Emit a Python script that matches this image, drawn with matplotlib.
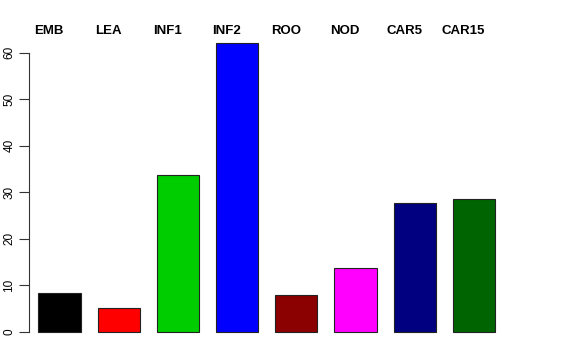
import matplotlib
matplotlib.use('Agg')
import matplotlib.pyplot as plt
import numpy as np

# tissue names and values
tissues = ['EMB', 'LEA', 'INF1', 'INF2', 'ROO', 'NOD', 'CAR5', 'CAR15']
values = [8.4, 5.0, 33.8, 62.1, 7.9, 13.6, 27.6, 28.6]
colors = ['#000000', '#FF0000', '#00CD00', '#0000FF', '#8B0000', '#FF00FF', '#000080', '#006400']

plt.rcParams['font.family'] = ['Liberation Sans', 'DejaVu Sans']

fig = plt.figure(figsize=(5.76, 3.6), dpi=100)
ax = fig.add_axes([0.0509, 0.0464, 0.8335, 0.8589])

x = np.arange(len(tissues))
ax.bar(x, values, width=0.714, color=colors, edgecolor='#222222', linewidth=0.8)

ax.set_xlim(-0.51, 7.6)
ax.set_ylim(-2.5, 64)

# labels on top, a bit left of each bar centre as in the original
for xi, name in zip(x, tissues):
    ax.text(xi - 0.18, 64.7, name, ha='center', va='center', fontsize=9.5,
            fontweight='bold', clip_on=False)

for s in ['top', 'right', 'bottom']:
    ax.spines[s].set_visible(False)
ax.spines['left'].set_bounds(0, 60)
ax.spines['left'].set_color('#333333')
ax.set_xticks([])
ax.set_yticks(np.arange(0, 61, 10))
ax.tick_params(axis='y', length=7, width=0.8, color='#333333', labelsize=8.5, pad=3)
for lab in ax.get_yticklabels():
    lab.set_rotation(90)
    lab.set_va('center')

fig.savefig('out.png', dpi=100)
